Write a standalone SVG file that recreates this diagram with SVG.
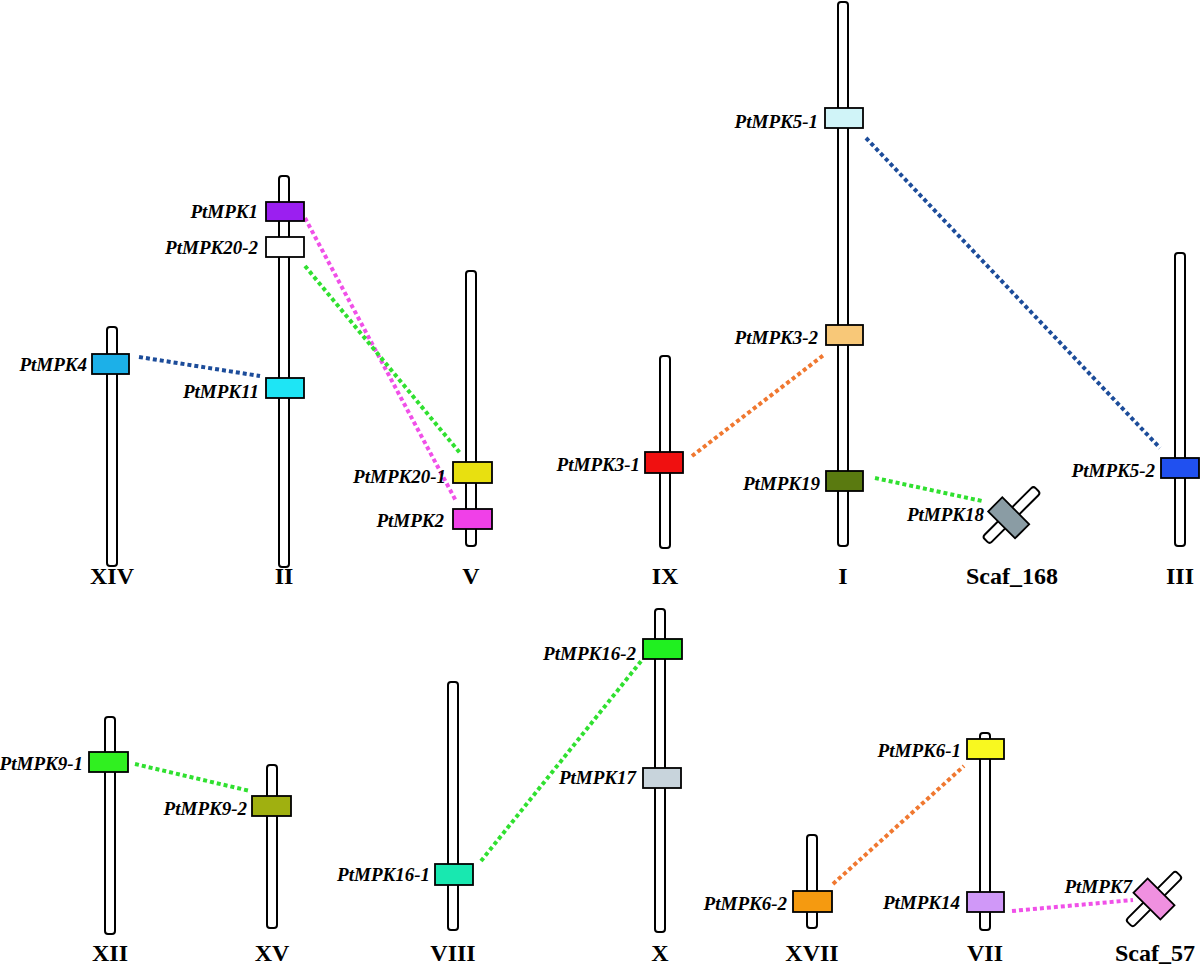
<svg xmlns="http://www.w3.org/2000/svg" width="1200" height="973" viewBox="0 0 1200 973">
<style>
.chr{fill:#fff;stroke:#000;stroke-width:2}
.box{stroke:#000;stroke-width:1.8}
.g{font-family:"Liberation Serif","Times New Roman",serif;font-weight:bold;font-style:italic;font-size:19px;text-anchor:end;fill:#000}
.c{font-family:"Liberation Serif","Times New Roman",serif;font-weight:bold;font-size:24px;text-anchor:middle;fill:#000}
.ln{fill:none;stroke-width:4;stroke-dasharray:4 3}
</style>
<rect width="1200" height="973" fill="#fff"/>
<g id="connectors">
<line class="ln" x1="139" y1="357" x2="260" y2="376" stroke="#1C4C9A"/>
<line class="ln" x1="305" y1="218" x2="456" y2="501" stroke="#F050E8"/>
<line class="ln" x1="305" y1="266" x2="460" y2="453" stroke="#30E030"/>
<line class="ln" x1="692" y1="456" x2="825" y2="354" stroke="#F07830"/>
<line class="ln" x1="866" y1="138" x2="1160" y2="448" stroke="#1C4C9A"/>
<line class="ln" x1="875" y1="478" x2="982" y2="501" stroke="#30E030"/>
<line class="ln" x1="135" y1="764" x2="250" y2="791" stroke="#30E030"/>
<line class="ln" x1="481" y1="861" x2="642" y2="660" stroke="#30E030"/>
<line class="ln" x1="833" y1="884" x2="964" y2="766" stroke="#F07830"/>
<line class="ln" x1="1012" y1="911" x2="1133" y2="900" stroke="#F050E8"/>
</g>
<g id="chr-XIV">
<rect class="chr" x="107" y="327" width="10" height="239" rx="3"/>
<rect class="box" x="92" y="354" width="37" height="20" fill="#1CB0E8"/>
<text class="g" x="87" y="371">PtMPK4</text>
<text class="c" x="112" y="584">XIV</text>
</g>
<g id="chr-II">
<rect class="chr" x="279" y="176" width="10" height="391" rx="3"/>
<rect class="box" x="266" y="202" width="38" height="19" fill="#9B1FF0"/>
<rect class="box" x="266" y="237" width="38" height="20" fill="#fff"/>
<rect class="box" x="266" y="378" width="38" height="20" fill="#1EE5F5"/>
<text class="g" x="258" y="218">PtMPK1</text>
<text class="g" x="258" y="254">PtMPK20-2</text>
<text class="g" x="259" y="398">PtMPK11</text>
<text class="c" x="284" y="584">II</text>
</g>
<g id="chr-V">
<rect class="chr" x="466" y="271" width="10" height="275" rx="3"/>
<rect class="box" x="453" y="462" width="39" height="21" fill="#E8E010"/>
<rect class="box" x="453" y="509" width="39" height="20" fill="#F040E8"/>
<text class="g" x="446" y="483">PtMPK20-1</text>
<text class="g" x="444" y="527">PtMPK2</text>
<text class="c" x="471" y="584">V</text>
</g>
<g id="chr-IX">
<rect class="chr" x="660" y="356" width="10" height="192" rx="3"/>
<rect class="box" x="645" y="452" width="38" height="21" fill="#F01010"/>
<text class="g" x="640" y="471">PtMPK3-1</text>
<text class="c" x="665" y="584">IX</text>
</g>
<g id="chr-I">
<rect class="chr" x="838" y="2" width="10" height="544" rx="3"/>
<rect class="box" x="825" y="108" width="38" height="20" fill="#D0F4F8"/>
<rect class="box" x="826" y="325" width="37" height="20" fill="#F8C878"/>
<rect class="box" x="826" y="471" width="37" height="20" fill="#5A7A10"/>
<text class="g" x="818" y="128">PtMPK5-1</text>
<text class="g" x="818" y="344">PtMPK3-2</text>
<text class="g" x="820" y="490">PtMPK19</text>
<text class="c" x="843" y="584">I</text>
</g>
<g id="chr-Scaf_168">
<g transform="translate(1011.5,515) rotate(45)">
<rect class="chr" x="-5" y="-36" width="10" height="72" rx="3"/>
<rect class="box" x="-19" y="-6" width="38" height="20" fill="#8A9CA4"/>
</g>
<text class="g" x="984" y="521">PtMPK18</text>
<text class="c" x="1012" y="584">Scaf_168</text>
</g>
<g id="chr-III">
<rect class="chr" x="1175" y="253" width="10" height="293" rx="3"/>
<rect class="box" x="1161" y="458" width="38" height="20" fill="#2050F0"/>
<text class="g" x="1155" y="477">PtMPK5-2</text>
<text class="c" x="1180" y="584">III</text>
</g>
<g id="chr-XII">
<rect class="chr" x="105" y="717" width="10" height="217" rx="3"/>
<rect class="box" x="89" y="752" width="39" height="20" fill="#30F020"/>
<text class="g" x="83" y="770">PtMPK9-1</text>
<text class="c" x="110" y="961">XII</text>
</g>
<g id="chr-XV">
<rect class="chr" x="267" y="765" width="10" height="163" rx="3"/>
<rect class="box" x="252" y="796" width="39" height="20" fill="#A0B010"/>
<text class="g" x="247" y="815">PtMPK9-2</text>
<text class="c" x="272" y="961">XV</text>
</g>
<g id="chr-VIII">
<rect class="chr" x="448" y="682" width="10" height="248" rx="3"/>
<rect class="box" x="435" y="864" width="38" height="21" fill="#18E8B0"/>
<text class="g" x="430" y="881">PtMPK16-1</text>
<text class="c" x="453" y="961">VIII</text>
</g>
<g id="chr-X">
<rect class="chr" x="655" y="609" width="10" height="323" rx="3"/>
<rect class="box" x="643" y="639" width="39" height="20" fill="#20F020"/>
<rect class="box" x="643" y="768" width="38" height="20" fill="#C8D4DC"/>
<text class="g" x="636" y="660">PtMPK16-2</text>
<text class="g" x="636" y="784">PtMPK17</text>
<text class="c" x="660" y="961">X</text>
</g>
<g id="chr-XVII">
<rect class="chr" x="807" y="835" width="10" height="93" rx="3"/>
<rect class="box" x="793" y="891" width="39" height="21" fill="#F59A10"/>
<text class="g" x="787" y="910">PtMPK6-2</text>
<text class="c" x="812" y="961">XVII</text>
</g>
<g id="chr-VII">
<rect class="chr" x="980" y="733" width="10" height="197" rx="3"/>
<rect class="box" x="967" y="739" width="37" height="20" fill="#F8F820"/>
<rect class="box" x="967" y="892" width="37" height="20" fill="#D098F8"/>
<text class="g" x="961" y="757">PtMPK6-1</text>
<text class="g" x="960" y="909">PtMPK14</text>
<text class="c" x="985" y="961">VII</text>
</g>
<g id="chr-Scaf_57">
<g transform="translate(1154,899) rotate(45)">
<rect class="chr" x="-5" y="-35" width="10" height="70" rx="3"/>
<rect class="box" x="-19" y="-10" width="38" height="20" fill="#F090E0"/>
</g>
<text class="g" x="1132" y="893">PtMPK7</text>
<text class="c" x="1155" y="961">Scaf_57</text>
</g>
</svg>
